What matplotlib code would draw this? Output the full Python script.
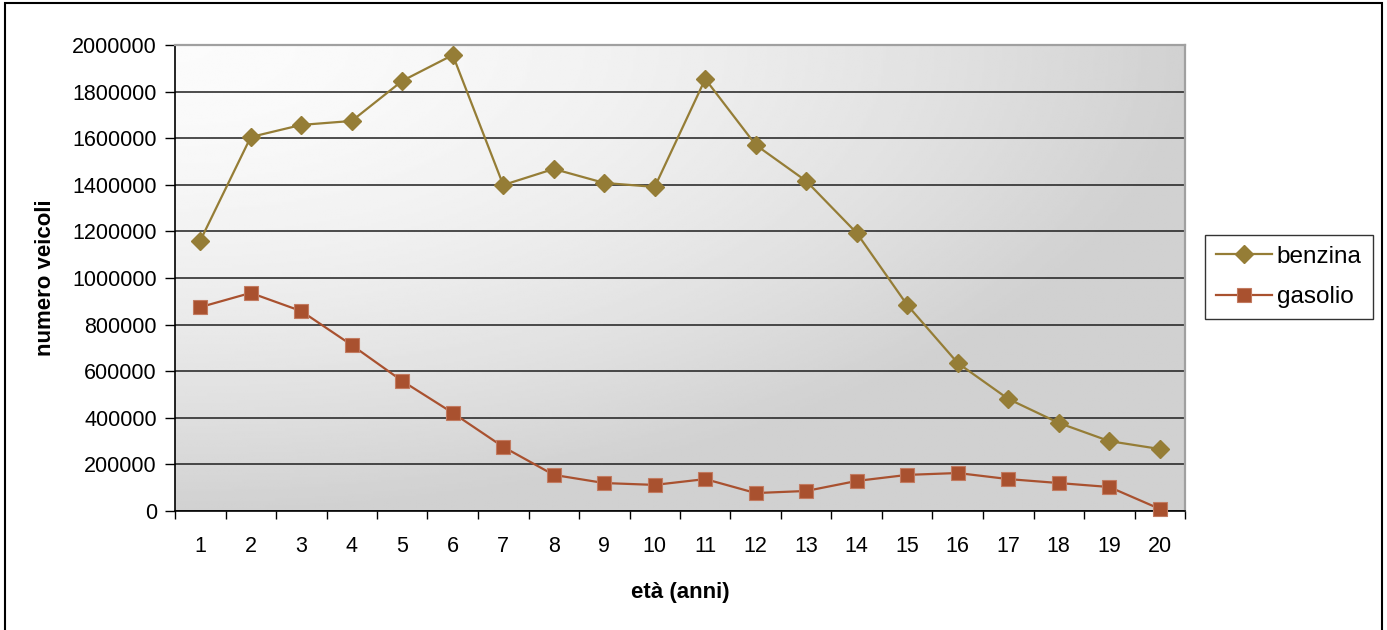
import matplotlib
matplotlib.use('Agg')  # backend senza display
import matplotlib.pyplot as plt
import numpy as np
from matplotlib.patches import Rectangle
from matplotlib.ticker import FixedLocator, FuncFormatter

# Età dei veicoli (anni) e numero di veicoli per alimentazione
eta = list(range(1, 21))
benzina = [1160000, 1605000, 1657000, 1674000, 1846000, 1957000, 1399000,
           1468000, 1408000, 1391000, 1854000, 1571000, 1416000, 1193000,
           884000, 635000, 481000, 378000, 300000, 266000]
gasolio = [875000, 936000, 858000, 712000, 558000, 421000, 275000, 155000,
           120000, 112000, 137000, 77000, 86000, 129000, 155000, 163000,
           137000, 120000, 103000, 9000]
y_ticks = [0, 200000, 400000, 600000, 800000, 1000000, 1200000, 1400000,
           1600000, 1800000, 2000000]

plt.rcParams['font.family'] = ['Liberation Sans', 'DejaVu Sans']

COL_BENZ = '#957D36'
COL_GAS = '#A9512F'

fig = plt.figure(figsize=(13.87, 6.30), dpi=100)
ax = fig.add_axes([175 / 1387, 119 / 630, 1010 / 1387, 466 / 630])

# sfondo dell'area del grafico: sfumatura dal bianco (alto a sinistra) al grigio
gx, gy = np.meshgrid(np.linspace(0, 1, 400), np.linspace(0, 1, 200))
dist = np.clip(np.sqrt(gx ** 2 + gy ** 2), 0, 1) ** 1.7
shade = 0.985 - 0.165 * dist
ax.imshow(shade, cmap='gray', vmin=0, vmax=1, extent=[0, 1, 0, 1], origin='upper',
          transform=ax.transAxes, aspect='auto', zorder=0, interpolation='bilinear')

# serie
ax.plot(eta, benzina, color=COL_BENZ, lw=1.6, marker='D', markersize=9,
        markeredgecolor=COL_BENZ, label='benzina', zorder=3, clip_on=False)
ax.plot(eta, gasolio, color=COL_GAS, lw=1.6, marker='s', markersize=9.5,
        markeredgecolor='#C27A60', markeredgewidth=0.8, label='gasolio',
        zorder=3, clip_on=False)

# assi
ax.set_xlim(0.5, 20.5)
ax.set_ylim(0, 2000000)
ax.set_xticks(eta)
ax.set_xticklabels([str(e) for e in eta])
ax.xaxis.set_minor_locator(FixedLocator(np.arange(0.5, 21, 1)))
ax.tick_params(axis='x', which='major', length=0, pad=18, labelsize=15.5)
ax.tick_params(axis='x', which='minor', length=6, width=1, color='black', direction='out')
ax.set_yticks(y_ticks)
ax.yaxis.set_major_formatter(FuncFormatter(lambda v, p: f'{int(v)}'))
ax.tick_params(axis='y', length=7, width=1, color='black', pad=6, labelsize=15.5)

ax.set_axisbelow(True)
ax.yaxis.grid(True, color='#1e1e1e', lw=1.1)
ax.xaxis.grid(False)

ax.spines['left'].set_color('black')
ax.spines['bottom'].set_color('black')
ax.spines['left'].set_linewidth(1.2)
ax.spines['bottom'].set_linewidth(1.2)
ax.spines['top'].set_color('#a0a0a0')
ax.spines['right'].set_color('#a0a0a0')
ax.spines['top'].set_linewidth(1.6)
ax.spines['right'].set_linewidth(1.6)

ax.set_xlabel('età (anni)', fontsize=16, fontweight='bold', labelpad=18)
ax.set_ylabel('numero veicoli', fontsize=16, fontweight='bold', labelpad=12)

# legenda a destra
leg = fig.legend(loc='upper left', bbox_to_anchor=(1205 / 1387, 1 - 235 / 630),
                 fontsize=17.5, frameon=True, fancybox=False, handlelength=2.3,
                 handletextpad=0.2, borderpad=0.45, labelspacing=0.75,
                 borderaxespad=0)
leg.get_frame().set_edgecolor('black')
leg.get_frame().set_linewidth(1.0)

# bordo esterno del grafico
fig.patches.append(Rectangle((5 / 1387, -0.02), 1377 / 1387, 1 - 3 / 630 + 0.02,
                             transform=fig.transFigure, fill=False,
                             edgecolor='black', lw=1.5))

fig.savefig('out.png', dpi=100)
plt.close(fig)
